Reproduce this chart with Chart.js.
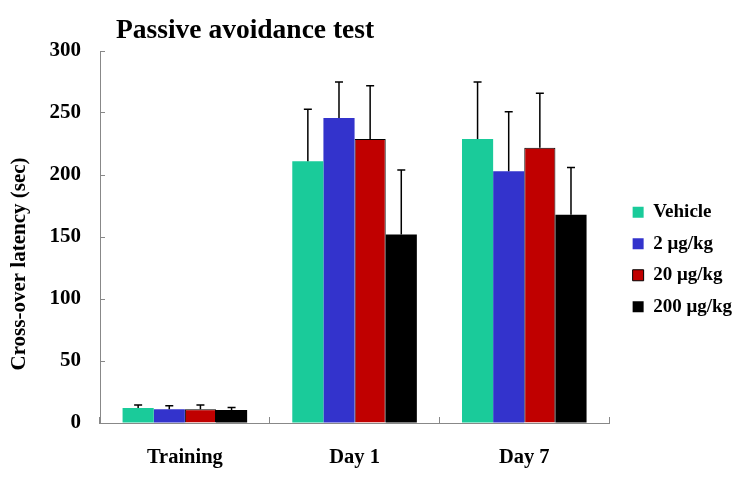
<html>
<head>
    <title>Passive avoidance test</title>
    <style>
        body { margin: 0; background: #fff; }
        #wrap { width: 751px; height: 485px; }
    </style>
</head>
<body>
    <div id="wrap">
        <canvas id="pa-chart"></canvas>
    </div>
</body>
</html>
<script src="https://cdn.jsdelivr.net/npm/chart.js"></script>
<script>

    // data
    const categories = ["Training", "Day 1", "Day 7"]
    const groups = ["Vehicle", "2 \u03bcg/kg", "20 \u03bcg/kg", "200 \u03bcg/kg"]
    const vehicle = [12, 211, 229]
    const dose2 = [11, 246, 203]
    const dose20 = [11, 229, 222]
    const dose200 = [10.5, 152, 168]
    const vehicleErr = [2.5, 42, 46]
    const dose2Err = [3, 29, 48]
    const dose20Err = [3.5, 43, 44]
    const dose200Err = [2, 52, 38]
    const yTicks = [0, 50, 100, 150, 200, 250, 300]

    const serif = "'Liberation Serif', 'Times New Roman', serif"
    const colors = ["#1ACB9A", "#3333CC", "#C00000", "#000000"]
    const values = [vehicle, dose2, dose20, dose200]
    const errors = [vehicleErr, dose2Err, dose20Err, dose200Err]

    // upper error bars with a cap
    const errorBars = {
        id: "errorBars",
        afterDatasetsDraw(chart) {
            const c = chart.ctx
            const y = chart.scales.y
            c.save()
            c.strokeStyle = "#000"
            c.lineWidth = 1.5
            chart.data.datasets.forEach((ds, i) => {
                const meta = chart.getDatasetMeta(i)
                meta.data.forEach((bar, j) => {
                    const top = y.getPixelForValue(ds.data[j] + errors[i][j])
                    c.beginPath()
                    c.moveTo(bar.x, bar.y)
                    c.lineTo(bar.x, top)
                    c.moveTo(bar.x - 4, top)
                    c.lineTo(bar.x + 4, top)
                    c.stroke()
                })
            })
            c.restore()
        }
    }

    // y title sits a bit below the middle, title and legend moved a bit
    const tweaks = {
        id: "tweaks",
        afterLayout(chart) {
            chart.titleBlock.left = 116
            const lg = chart.legend
            lg.left = chart.chartArea.right + 11
            lg.right = chart.width
            lg.width = lg.right - lg.left
            lg.top += 17
            lg.bottom += 17
        },
        afterDraw(chart) {
            const c = chart.ctx
            c.save()
            c.translate(20, 264)
            c.rotate(-Math.PI / 2)
            c.font = "bold 21px " + serif
            c.fillStyle = "#000"
            c.textAlign = "center"
            c.textBaseline = "middle"
            c.fillText("Cross-over latency (sec)", 0, 0)
            c.restore()
        }
    }

    function main(){
        const ctx = document.getElementById("pa-chart")
        new Chart(ctx, {
            type: "bar",
            data: {
                labels: categories,
                datasets: groups.map((g, i) => ({
                    label: g,
                    data: values[i],
                    backgroundColor: colors[i],
                    borderColor: i == 2 ? "#000" : colors[i],
                    borderWidth: i == 2 ? 1 : 0,
                    barPercentage: 1,
                    categoryPercentage: 0.734
                }))
            },
            plugins: [errorBars, tweaks],
            options: {
                responsive: true,
                maintainAspectRatio: false,
                animation: false,
                layout: { padding: { left: 0, right: 20, top: 0, bottom: 0 } },
                plugins: {
                    title: {
                        display: true,
                        text: "Passive avoidance test",
                        align: "start",
                        color: "#000",
                        font: { family: serif, size: 27.5, weight: "bold" },
                        padding: { top: 14, bottom: 4 }
                    },
                    legend: {
                        position: "right",
                        labels: {
                            color: "#000",
                            boxWidth: 11,
                            boxHeight: 11,
                            padding: 12.5,
                            font: { family: serif, size: 19, weight: "bold" }
                        }
                    },
                    tooltip: { enabled: false }
                },
                scales: {
                    x: {
                        grid: { drawOnChartArea: false, tickLength: -6, color: "#888", offset: true },
                        border: { color: "#888", width: 1 },
                        ticks: {
                            color: "#000",
                            padding: 28,
                            font: { family: serif, size: 20.5, weight: "bold" }
                        },
                        afterFit(scale) { scale.height = 62 }
                    },
                    y: {
                        min: 0,
                        max: 300,
                        afterBuildTicks(scale) { scale.ticks = yTicks.map(v => ({ value: v })) },
                        grid: { drawOnChartArea: false, tickLength: -5, color: "#888" },
                        border: { color: "#888", width: 1 },
                        ticks: {
                            color: "#000",
                            padding: 24,
                            font: { family: serif, size: 21, weight: "bold" }
                        },
                        afterFit(scale) { scale.width = 100 }
                    }
                }
            }
        })
    }

    main()
</script>
